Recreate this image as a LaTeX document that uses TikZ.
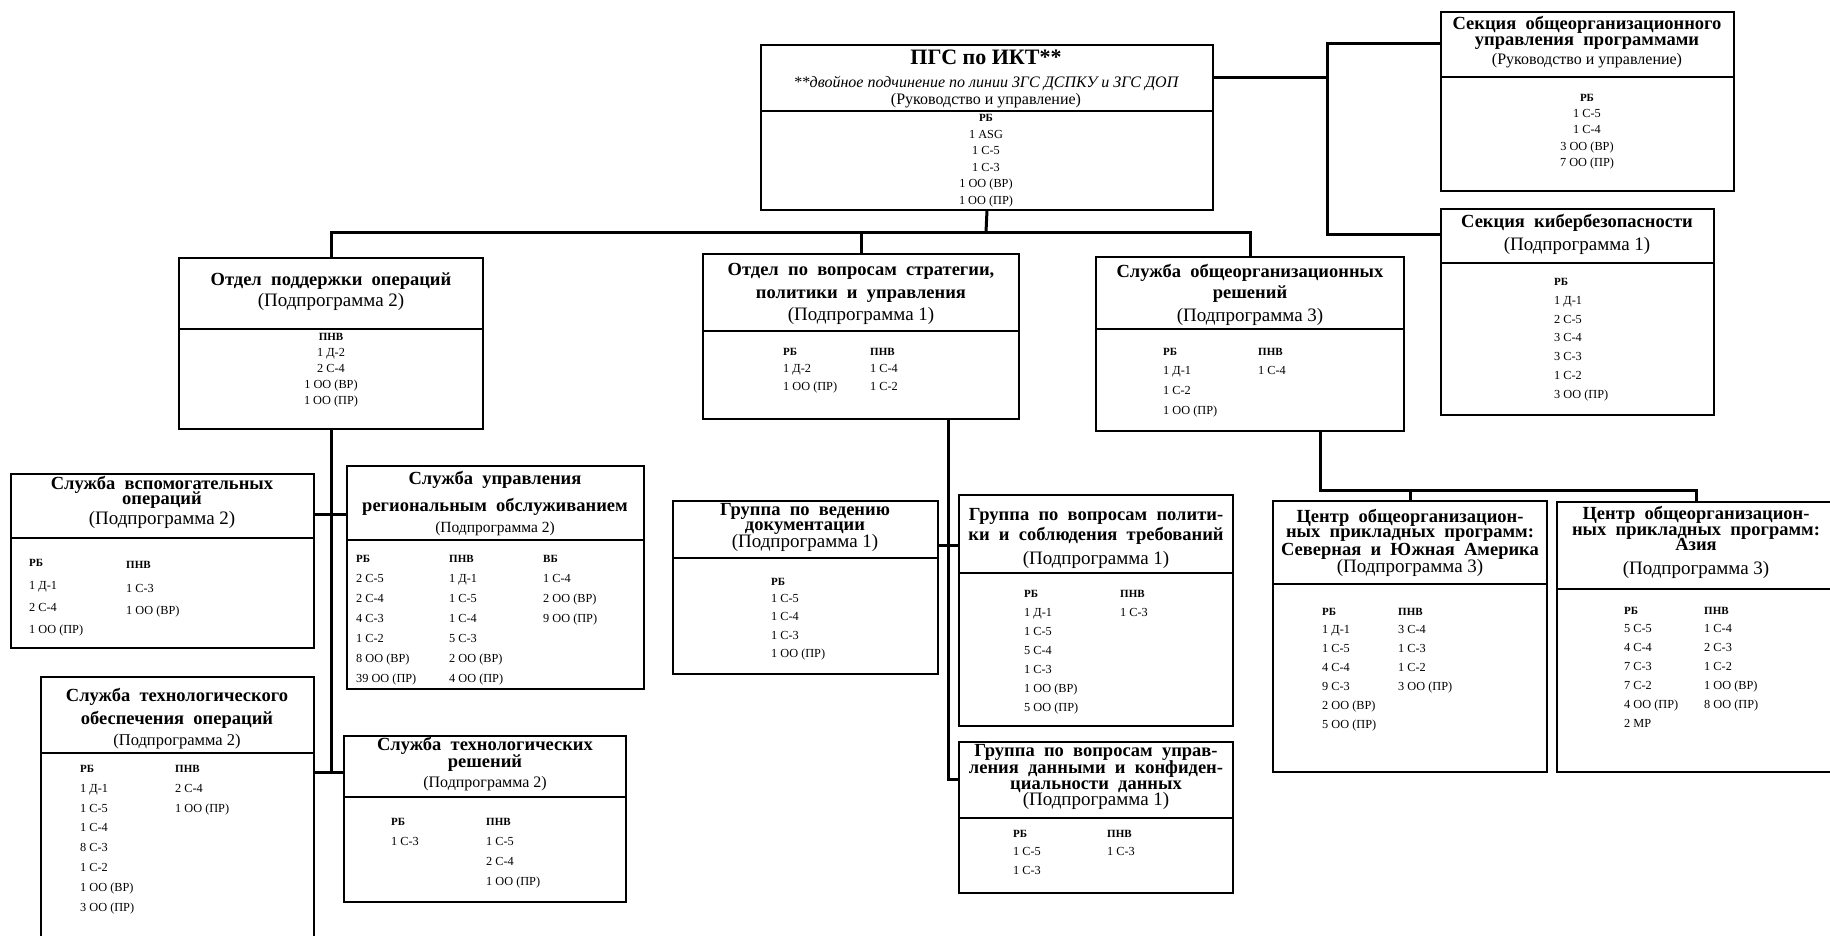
\documentclass[tikz,border=0pt]{standalone}
\usepackage{fontspec}
\setmainfont{Liberation Serif}
\newfontfamily\ttlfont[WordSpace=2]{Liberation Serif}
\usetikzlibrary{fit}
\tikzset{
  box/.style={draw, line width=1.5pt, inner sep=0pt, outer sep=0pt},
  divl/.style={line width=1.5pt},
  conn/.style={line width=3pt},
  ttl/.style={font=\ttlfont\fontsize{18.5}{18.5}\selectfont\bfseries, inner sep=0pt, anchor=mid},
  sub/.style={font=\fontsize{19}{19}\selectfont, inner sep=0pt, anchor=mid},
  ssub/.style={font=\fontsize{15.5}{15.5}\selectfont, inner sep=0pt, anchor=mid},
  hdr/.style={font=\fontsize{11}{11}\selectfont\bfseries, inner sep=0pt},
  dat/.style={font=\fontsize{12.3}{12.3}\selectfont, inner sep=0pt},
}
\newcommand\obox[6]{\node[box, fit={(#2,#3) (#4,#5)}] (#1) {}; \draw[divl] (#2,#6) -- (#4,#6);}
\newcommand\tline[5]{\node[#1] (#2) at (#3,#4) {#5};}
\newcommand\mycol[8]{%
  \node[hdr,anchor=#8] (#1h) at (#2,#3) {#6};
  \foreach \t [count=\i from 0] in {#7} {\node[dat,anchor=#8] (#1\i) at (#2,{#4+\i*#5}) {\t};}%
}
\begin{document}
\begin{tikzpicture}[x=1pt,y=-1pt]
\useasboundingbox (0,0) rectangle (1830,935);
\fill[white] (0,0) rectangle (1830,935);
\clip (0,0) rectangle (1830,935);

% ---------- boxes ----------
\obox{main}{761}{45}{1213}{210}{111}
\obox{sect}{1441}{12}{1734}{191}{77}
\obox{cyb}{1441}{209}{1714}{415}{263}
\obox{ops}{179}{258}{483}{429}{329}
\obox{strat}{703}{254}{1019}{419}{331}
\obox{svc}{1096}{257}{1404}{431}{329}
\obox{aux}{11}{474}{314}{648}{538}
\obox{reg}{347}{466}{644}{689}{540}
\obox{tops}{41}{677}{314}{950}{753}
\obox{tsol}{344}{736}{626}{902}{797}
\obox{doc}{673}{501}{938}{674}{558}
\obox{pol}{959}{495}{1233}{726}{573}
\obox{data}{959}{742}{1233}{893}{818}
\obox{amer}{1273}{501}{1547}{772}{584}
\obox{asia}{1557}{502}{1835}{772}{589}

% ---------- connectors ----------
\coordinate (bus) at (986,232);
\draw[conn] (main.south) -- (bus);
\draw[conn] (ops.north) -- (ops.north |- bus) -- (svc.north |- bus) -- (svc.north);
\draw[conn] (strat.north) -- (strat.north |- bus);

\coordinate (rv) at (1327,77);
\coordinate (rt) at (1327,43);
\coordinate (rb) at (1327,234);
\draw[conn] (main.east |- rv) -- (rv);
\draw[conn] (sect.west |- rt) -- (rt) -- (rb) -- (cyb.west |- rb);

\coordinate (lv1) at (331,514);
\coordinate (lv2) at (331,772);
\draw[conn] (ops.south) -- (lv2);
\draw[conn] (aux.east |- lv1) -- (reg.west |- lv1);
\draw[conn] (tops.east |- lv2) -- (tsol.west |- lv2);

\coordinate (sv1) at (948,545);
\coordinate (sv2) at (948,779);
\draw[conn] (strat.south -| sv1) -- (sv2) -- (data.west |- sv2);
\draw[conn] (doc.east |- sv1) -- (pol.west |- sv1);

\coordinate (cv) at (1320,490);
\draw[conn] (svc.south -| cv) -- (cv) -- (asia.north |- cv) -- (asia.north);
\draw[conn] (amer.north) -- (amer.north |- cv);

% ---------- main ----------
\tline{ttl,font=\fontsize{22}{22}\selectfont\bfseries}{m1}{986}{62}{ПГС по ИКТ**}
\tline{ssub,font=\fontsize{16}{16}\selectfont\itshape}{m2}{986}{85}{**двойное подчинение по линии ЗГС ДСПКУ и ЗГС ДОП}
\tline{ssub,font=\fontsize{16}{16}\selectfont}{m3}{986}{102}{(Руководство и управление)}
\mycol{mb}{986}{119}{136}{16.5}{РБ}{1 ASG,1 С-5,1 С-3,1 ОО (ВР),1 ОО (ПР)}{mid}

% ---------- section ----------
\tline{ttl}{s1}{1587}{27}{Секция общеорганизационного}
\tline{ttl}{s2}{1587}{43}{управления программами}
\tline{ssub,font=\fontsize{16}{16}\selectfont}{s3}{1587}{62}{(Руководство и управление)}
\mycol{sb}{1587}{99}{115}{16.4}{РБ}{1 С-5,1 С-4,3 ОО (ВР),7 ОО (ПР)}{mid}

% ---------- cyber ----------
\tline{ttl}{c1}{1577}{225}{Секция кибербезопасности}
\tline{sub}{c2}{1577}{248}{(Подпрограмма 1)}
\mycol{cb}{1554}{283}{302}{18.8}{РБ}{1 Д-1,2 С-5,3 С-4,3 С-3,1 С-2,3 ОО (ПР)}{mid west}

% ---------- ops ----------
\tline{ttl}{o1}{331}{283}{Отдел поддержки операций}
\tline{sub}{o2}{331}{304}{(Подпрограмма 2)}
\mycol{ob}{331}{338}{354}{16}{ПНВ}{1 Д-2,2 С-4,1 ОО (ВР),1 ОО (ПР)}{mid}

% ---------- strategy ----------
\tline{ttl}{t1}{861}{273}{Отдел по вопросам стратегии,}
\tline{ttl}{t2}{861}{296}{политики и управления}
\tline{sub}{t3}{861}{318}{(Подпрограмма 1)}
\mycol{ta}{783}{353}{370}{18}{РБ}{1 Д-2,1 ОО (ПР)}{mid west}
\mycol{tb}{870}{353}{370}{18}{ПНВ}{1 С-4,1 С-2}{mid west}

% ---------- service ----------
\tline{ttl}{v1}{1250}{275}{Служба общеорганизационных}
\tline{ttl}{v2}{1250}{296}{решений}
\tline{sub}{v3}{1250}{319}{(Подпрограмма 3)}
\mycol{va}{1163}{353}{372}{20}{РБ}{1 Д-1,1 С-2,1 ОО (ПР)}{mid west}
\mycol{vb}{1258}{353}{372}{20}{ПНВ}{1 С-4}{mid west}

% ---------- aux ----------
\tline{ttl}{a1}{162}{487}{Служба вспомогательных}
\tline{ttl}{a2}{162}{502}{операций}
\tline{sub}{a3}{162}{522}{(Подпрограмма 2)}
\mycol{aa}{29}{564}{587}{22}{РБ}{1 Д-1,2 С-4,1 ОО (ПР)}{mid west}
\mycol{ab}{126}{566}{590}{22}{ПНВ}{1 С-3,1 ОО (ВР)}{mid west}

% ---------- regional ----------
\tline{ttl}{r1}{495}{482}{Служба управления}
\tline{ttl}{r2}{495}{509}{региональным обслуживанием}
\tline{ssub}{r3}{495}{530}{(Подпрограмма 2)}
\mycol{ra}{356}{560}{580}{20}{РБ}{2 С-5,2 С-4,4 С-3,1 С-2,8 ОО (ВР),39 ОО (ПР)}{mid west}
\mycol{rb}{449}{560}{580}{20}{ПНВ}{1 Д-1,1 С-5,1 С-4,5 С-3,2 ОО (ВР),4 ОО (ПР)}{mid west}
\mycol{rc}{543}{560}{580}{20}{ВБ}{1 С-4,2 ОО (ВР),9 ОО (ПР)}{mid west}

% ---------- tech ops ----------
\tline{ttl}{p1}{177}{699}{Служба технологического}
\tline{ttl}{p2}{177}{722}{обеспечения операций}
\tline{ssub,font=\fontsize{16.5}{16.5}\selectfont}{p3}{177}{743}{(Подпрограмма 2)}
\mycol{pa}{80}{770}{790}{19.8}{РБ}{1 Д-1,1 С-5,1 С-4,8 С-3,1 С-2,1 ОО (ВР),3 ОО (ПР)}{mid west}
\mycol{pb}{175}{770}{790}{19.8}{ПНВ}{2 С-4,1 ОО (ПР)}{mid west}

% ---------- tech solutions ----------
\tline{ttl}{q1}{485}{748}{Служба технологических}
\tline{ttl}{q2}{485}{765}{решений}
\tline{ssub,font=\fontsize{16}{16}\selectfont}{q3}{485}{785}{(Подпрограмма 2)}
\mycol{qa}{391}{823}{843}{20}{РБ}{1 С-3}{mid west}
\mycol{qb}{486}{823}{843}{20}{ПНВ}{1 С-5,2 С-4,1 ОО (ПР)}{mid west}

% ---------- documentation ----------
\tline{ttl}{d1}{805}{513}{Группа по ведению}
\tline{ttl}{d2}{805}{528}{документации}
\tline{sub}{d3}{805}{545}{(Подпрограмма 1)}
\mycol{da}{771}{583}{600}{18.5}{РБ}{1 С-5,1 С-4,1 С-3,1 ОО (ПР)}{mid west}

% ---------- policy ----------
\tline{ttl}{l1}{1096}{518}{Группа по вопросам полити-}
\tline{ttl}{l2}{1096}{538}{ки и соблюдения требований}
\tline{sub}{l3}{1096}{562}{(Подпрограмма 1)}
\mycol{la}{1024}{595}{614}{19}{РБ}{1 Д-1,1 С-5,5 С-4,1 С-3,1 ОО (ВР),5 ОО (ПР)}{mid west}
\mycol{lb}{1120}{595}{614}{19}{ПНВ}{1 С-3}{mid west}

% ---------- data ----------
\tline{ttl}{e1}{1096}{754}{Группа по вопросам управ-}
\tline{ttl}{e2}{1096}{771}{ления данными и конфиден-}
\tline{ttl}{e3}{1096}{787}{циальности данных}
\tline{sub}{e4}{1096}{803}{(Подпрограмма 1)}
\mycol{ea}{1013}{835}{853}{19}{РБ}{1 С-5,1 С-3}{mid west}
\mycol{eb}{1107}{835}{853}{19}{ПНВ}{1 С-3}{mid west}

% ---------- americas ----------
\tline{ttl}{n1}{1410}{520}{Центр общеорганизацион-}
\tline{ttl}{n2}{1410}{535}{ных прикладных программ:}
\tline{ttl}{n3}{1410}{553}{Северная и Южная Америка}
\tline{sub}{n4}{1410}{570}{(Подпрограмма 3)}
\mycol{na}{1322}{613}{631}{19}{РБ}{1 Д-1,1 С-5,4 С-4,9 С-3,2 ОО (ВР),5 ОО (ПР)}{mid west}
\mycol{nb}{1398}{613}{631}{19}{ПНВ}{3 С-4,1 С-3,1 С-2,3 ОО (ПР)}{mid west}

% ---------- asia ----------
\tline{ttl}{z1}{1696}{517}{Центр общеорганизацион-}
\tline{ttl}{z2}{1696}{533}{ных прикладных программ:}
\tline{ttl}{z3}{1696}{548}{Азия}
\tline{sub}{z4}{1696}{572}{(Подпрограмма 3)}
\mycol{za}{1624}{612}{630}{19}{РБ}{5 С-5,4 С-4,7 С-3,7 С-2,4 ОО (ПР),2 МР}{mid west}
\mycol{zb}{1704}{612}{630}{19}{ПНВ}{1 С-4,2 С-3,1 С-2,1 ОО (ВР),8 ОО (ПР)}{mid west}
\end{tikzpicture}
\end{document}
